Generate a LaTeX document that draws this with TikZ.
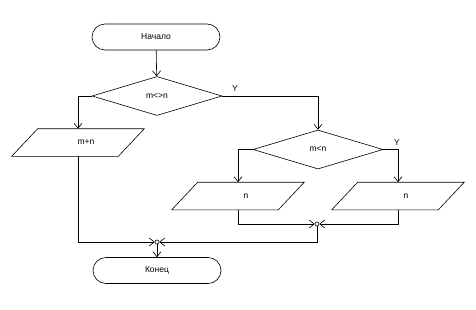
\documentclass[tikz,border=0pt]{standalone}
\usepackage{fontspec}
\setmainfont{Liberation Sans}
\usetikzlibrary{shapes.geometric,shapes.misc,arrows.meta,calc}
\begin{document}
\begin{tikzpicture}[x=1pt,y=-1pt, font=\fontsize{8.5}{10}\selectfont, line width=0.6pt,
 term/.style={rounded rectangle, draw, minimum width=128pt, minimum height=26pt, inner sep=0pt},
 decision/.style={diamond, draw, minimum width=130pt, minimum height=39pt, inner sep=0pt},
 iobox/.style={rectangle, minimum width=106pt, minimum height=27pt, inner sep=0pt},
 arr/.style={-{Straight Barb[length=5pt,width=8pt]}},
 junc/.style={circle, draw, fill=white, minimum size=4pt, inner sep=0pt},
 lbl/.style={inner sep=0pt}]
\useasboundingbox (0,0) rectangle (476,310);
\node[term] (start) at (156,37) {Начало};
\node[decision] (d1) at (157,96) {m<>n};
\node[iobox] (io1) at (78,142.5) {\hspace*{16pt}m+n};
\node[decision] (d2) at (318,149.5) {m<n};
\node[iobox] (io2) at (238,196) {\hspace*{16pt}n};
\node[iobox] (io3) at (398,196) {\hspace*{16pt}n};
\node[junc] (j1) at (317,224) {};
\node[junc] (j2) at (157,242) {};
\node[term] (end) at (157,270.5) {Конец};
\node[lbl] (y1) at (235,89) {Y};
\node[lbl] (y2) at (397,143) {Y};
\foreach \n in {io1,io2,io3}
  \draw ($(\n.north west)+(13,0)$) -- ($(\n.north east)+(13,0)$) -- ($(\n.south east)+(-13,0)$) -- ($(\n.south west)+(-13,0)$) -- cycle;
\draw[arr] (start) -- (d1);
\draw[arr] (d1.west) -| (io1.north);
\draw[arr] (d1.east) -| (d2.north);
\draw[arr] (d2.west) -| (io2.north);
\draw[arr] (d2.east) -| (io3.north);
\draw[arr] (io2.south) |- (j1.west);
\draw[arr] (io3.south) |- (j1.east);
\draw[arr] (io1.south) |- (j2.west);
\draw[arr] (j1.south) |- (j2.east);
\draw[arr] (j2.south) -- (end.north);
\end{tikzpicture}
\end{document}
